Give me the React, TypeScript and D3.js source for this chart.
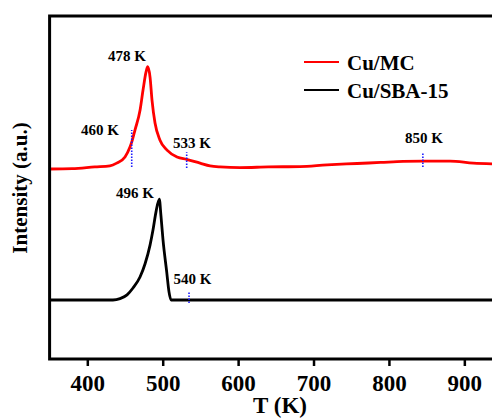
import { useEffect, useRef } from 'react';
import * as d3 from 'd3';

// T (K) / intensity (a.u.)
const mcT   = [350, 380, 410, 430, 439, 450, 456.6, 459, 463.3, 470, 473.9, 477.9, 480.1, 483.2, 485.8, 489.8, 496.4, 505.7, 519, 531.8, 549.5, 562.7, 576, 602.5, 640, 682, 718, 758, 789, 819, 846, 881, 912, 940];
const mcI   = [5.54, 5.55, 5.6, 5.63, 5.71, 5.89, 6.18, 6.33, 6.68, 7.26, 7.84, 8.37, 8.52, 8.22, 7.55, 6.88, 6.38, 6.09, 5.89, 5.82, 5.71, 5.63, 5.6, 5.58, 5.6, 5.61, 5.66, 5.7, 5.73, 5.76, 5.77, 5.77, 5.71, 5.69];
const sbaT  = [350, 400, 434, 443.4, 452.7, 460.6, 469.9, 476.5, 483.2, 487.1, 491.1, 495.5, 497.7, 500.4, 505.3, 508.4, 511, 600, 800, 940];
const sbaI  = [1.72, 1.72, 1.72, 1.76, 1.87, 2.07, 2.39, 2.77, 3.32, 3.76, 4.29, 4.66, 4.17, 3.47, 2.54, 1.95, 1.72, 1.72, 1.72, 1.72];

const xTicks = [400, 500, 600, 700, 800, 900];

// dotted blue markers: position, bottom, top
const markT  = [458.9, 531.8, 845, 534.9];
const markLo = [5.6, 5.57, 5.6, 1.63];
const markHi = [6.68, 6.03, 6.01, 1.98];

// peak annotations
const annText = ['478 K', '460 K', '533 K', '850 K', '496 K', '540 K'];
const annT    = [452.7, 416.8, 538.9, 846.6, 463.3, 539.5];
const annI    = [8.69, 6.53, 6.15, 6.3, 4.69, 2.19];

const seriesNames  = ['Cu/MC', 'Cu/SBA-15'];
const seriesColors = ['#ff0000', '#000000'];

const W = 492, H = 419;
const serif = 'Liberation Serif, Times New Roman, DejaVu Serif, serif';

export default function App() {
  const svgRef = useRef<SVGSVGElement | null>(null);

  useEffect(() => {
    if (!svgRef.current) return;
    const svg = d3.select(svgRef.current);
    svg.selectAll('*').remove();

    const x = d3.scaleLinear().domain([350, 940]).range([49.6, 494.5]);
    const y = d3.scaleLinear().domain([0, 10]).range([359, 16]);

    svg.append('rect').attr('width', W).attr('height', H).attr('fill', '#fff');

    svg.append('defs').append('clipPath').attr('id', 'plotclip')
      .append('rect').attr('x', x(350)).attr('y', y(10)).attr('width', W - x(350)).attr('height', y(0) - y(10));

    const g = svg.append('g').attr('clip-path', 'url(#plotclip)');

    const line = d3.line<[number, number]>().x(d => x(d[0])).y(d => y(d[1])).curve(d3.curveMonotoneX);

    const mc  = mcT.map((t, i) => [t, mcI[i]] as [number, number]);
    const sba = sbaT.map((t, i) => [t, sbaI[i]] as [number, number]);

    g.append('path').datum(sba).attr('fill', 'none').attr('stroke', seriesColors[1]).attr('stroke-width', 2.8)
      .attr('stroke-linejoin', 'round').attr('d', line);
    g.append('path').datum(mc).attr('fill', 'none').attr('stroke', seriesColors[0]).attr('stroke-width', 2.8)
      .attr('stroke-linejoin', 'round').attr('d', line);

    // dotted markers
    g.selectAll('.mk').data(markT).join('line').attr('class', 'mk')
      .attr('x1', d => x(d)).attr('x2', d => x(d))
      .attr('y1', (_d, i) => y(markLo[i])).attr('y2', (_d, i) => y(markHi[i]))
      .attr('stroke', '#1a1aff').attr('stroke-width', 1.6).attr('stroke-dasharray', '1.5 1.5');

    // annotations
    svg.selectAll('.ann').data(annText).join('text').attr('class', 'ann')
      .attr('x', (_d, i) => x(annT[i])).attr('y', (_d, i) => y(annI[i]))
      .attr('text-anchor', 'middle').style('font-family', serif).style('font-weight', 'bold')
      .style('font-size', '15px').attr('fill', '#000').text(d => d);

    // x axis
    svg.append('g').attr('transform', `translate(0,${y(0)})`)
      .call(d3.axisBottom(x).tickValues(xTicks).tickSize(7).tickPadding(9).tickFormat(d3.format('d')))
      .call(ax => {
        ax.select('.domain').remove();
        ax.attr('font-family', null).attr('font-size', null);
        ax.selectAll('line').attr('stroke', '#000').attr('stroke-width', 2.5);
        ax.selectAll('text').attr('fill', '#000').style('font-family', serif)
          .style('font-weight', 'bold').style('font-size', '23px');
      });

    // frame: left, bottom, top
    const x0 = x(350), y0 = y(0), y1 = y(10);
    svg.append('path')
      .attr('d', `M${W},${y1}H${x0}V${y0}H${W}`)
      .attr('fill', 'none').attr('stroke', '#000').attr('stroke-width', 3);

    svg.append('text').attr('x', 280).attr('y', 413).attr('text-anchor', 'middle')
      .style('font-family', serif).style('font-weight', 'bold').style('font-size', '23px').text('T (K)');

    svg.append('text').attr('transform', 'rotate(-90)').attr('x', -188).attr('y', 27)
      .attr('text-anchor', 'middle').style('font-family', serif).style('font-weight', 'bold')
      .style('font-size', '21px').text('Intensity (a.u.)');

    // legend
    const lg = svg.append('g').attr('transform', 'translate(304,62)');
    seriesNames.forEach((name, i) => {
      lg.append('line').attr('x1', 0).attr('x2', 35).attr('y1', i * 28).attr('y2', i * 28)
        .attr('stroke', seriesColors[i]).attr('stroke-width', 2.2);
      lg.append('text').attr('x', 43).attr('y', i * 28 + 8).style('font-family', serif)
        .style('font-weight', 'bold').style('font-size', '21px').attr('fill', '#000').text(name);
    });
  }, []);

  return (
    <svg ref={svgRef} width={W} height={H}
      style={{ position: 'absolute', left: 0, top: 0, display: 'block' }} />
  );
}
